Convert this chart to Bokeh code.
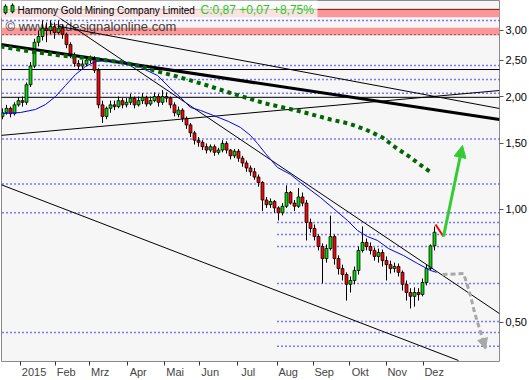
import numpy as np
from bokeh.plotting import figure
from bokeh.models import (Range1d, FixedTicker, CustomJSTickFormatter, LinearAxis,
                          Label, Arrow, NormalHead)
from bokeh.embed import file_html
from bokeh.resources import INLINE
from bokeh.core.properties import value

# ---------------- data ----------------
opens = [1.77,1.81,1.86,1.80,1.90,1.95,1.93,2.15,2.41,2.79,
         2.89,3.04,3.00,3.07,2.96,3.04,2.93,2.75,2.57,2.45,
         2.41,2.44,2.50,2.53,2.35,1.90,1.77,1.86,1.90,1.88,
         1.95,1.90,1.93,1.98,1.90,1.95,1.99,1.91,1.95,2.00,
         1.93,2.00,1.98,1.90,1.79,1.84,1.75,1.68,1.60,1.53,
         1.51,1.47,1.44,1.47,1.42,1.44,1.50,1.44,1.39,1.43,
         1.37,1.33,1.29,1.26,1.22,1.18,1.06,1.03,1.05,1.01,
         0.98,1.02,1.11,1.04,1.02,1.08,1.04,0.924,0.890,0.847,
         0.797,0.740,0.787,0.847,0.740,0.696,0.671,0.632,0.647,0.688,
         0.778,0.817,0.797,0.778,0.750,0.768,0.731,0.713,0.696,0.705,
         0.680,0.632,0.601,0.587,0.601,0.594,0.639,0.696,0.80]
closes = [1.81,1.86,1.80,1.90,1.95,1.93,2.15,2.41,2.79,2.89,
          3.04,3.00,3.07,2.96,3.04,2.93,2.75,2.57,2.45,2.41,
          2.44,2.50,2.53,2.35,1.90,1.77,1.86,1.90,1.88,1.95,
          1.90,1.93,1.98,1.90,1.95,1.99,1.91,1.95,2.00,1.93,
          2.00,1.98,1.90,1.81,1.84,1.75,1.68,1.60,1.53,1.51,
          1.47,1.44,1.47,1.42,1.44,1.50,1.44,1.39,1.43,1.37,
          1.33,1.29,1.26,1.22,1.18,1.06,1.03,1.05,1.01,0.98,
          1.02,1.11,1.04,1.02,1.08,1.04,0.924,0.890,0.847,0.797,
          0.740,0.787,0.847,0.740,0.696,0.671,0.632,0.647,0.688,0.778,
          0.817,0.797,0.778,0.750,0.768,0.731,0.713,0.696,0.705,0.680,
          0.632,0.601,0.587,0.601,0.594,0.639,0.696,0.80,0.87]
highs = [1.86,1.90,1.88,1.93,1.99,2.00,2.18,2.47,2.85,3.00,
         3.19,3.15,3.19,3.15,3.19,3.11,2.96,2.79,2.62,2.50,
         2.50,2.54,2.57,2.56,2.38,1.95,1.88,1.95,1.95,2.00,
         1.98,1.98,2.03,2.00,2.00,2.04,2.01,2.00,2.05,2.03,
         2.08,2.05,2.00,1.93,1.88,1.86,1.77,1.70,1.62,1.56,
         1.53,1.50,1.49,1.49,1.46,1.53,1.52,1.45,1.45,1.45,
         1.39,1.35,1.31,1.29,1.24,1.19,1.08,1.07,1.06,1.02,
         1.04,1.16,1.12,1.06,1.14,1.11,1.06,0.946,0.912,0.858,
         0.812,0.807,0.963,0.858,0.755,0.713,0.680,0.663,0.705,0.797,
         0.901,0.837,0.817,0.792,0.787,0.782,0.750,0.731,0.722,0.718,
         0.688,0.647,0.617,0.620,0.617,0.655,0.713,0.807,0.901]
lows = [1.74,1.79,1.76,1.78,1.88,1.88,1.90,2.12,2.38,2.72,
        2.82,2.79,2.93,2.85,2.93,2.85,2.69,2.53,2.40,2.35,
        2.36,2.41,2.45,2.31,1.86,1.70,1.74,1.81,1.84,1.86,
        1.86,1.87,1.90,1.86,1.88,1.91,1.88,1.89,1.93,1.88,
        1.90,1.93,1.86,1.77,1.76,1.71,1.64,1.56,1.49,1.47,
        1.44,1.41,1.42,1.39,1.40,1.42,1.41,1.36,1.37,1.34,
        1.30,1.26,1.23,1.20,1.15,0.99,1.01,1.01,0.98,0.935,
        0.965,1.01,1.03,0.99,1.01,1.02,0.827,0.868,0.827,0.778,
        0.636,0.722,0.778,0.713,0.671,0.647,0.572,0.601,0.632,0.671,
        0.768,0.778,0.759,0.731,0.722,0.705,0.647,0.675,0.680,0.663,
        0.608,0.572,0.545,0.551,0.572,0.587,0.628,0.688,0.778]

# short moving average (blue)
ma_fast_x = [0,4.5,8.25,10.75,13.25,15.75,18.25,20.75,23.25,27,30.75,34.5,38.75,42,44.5,
             47,49.5,52.75,56.5,59.5,62,63.75,65.75,68.75,72,74.5,79.5,82.75,86.25,88.75,
             91.25,93.75,96.5,100.25,103.75,107,108.5]
ma_fast_y = [1.802,1.813,1.847,1.904,2.000,2.140,2.289,2.404,2.479,2.495,2.465,2.390,2.275,
             2.101,1.988,1.870,1.836,1.780,1.716,1.654,1.575,1.499,1.410,1.294,1.240,1.180,
             1.076,1.006,0.935,0.879,0.847,0.827,0.787,0.754,0.718,0.688,0.680]
# 200-day moving average (green dotted)
ma_slow_x = [-0.5,7,14.5,22,30.25,34.5,38.75,42.75,47,51.25,55.75,60.75,65.75,74.5,82,
             86.5,90.75,95,98.25,102,104,107.5]
ma_slow_y = [2.718,2.636,2.572,2.525,2.464,2.404,2.332,2.275,2.207,2.140,2.063,1.988,1.916,
             1.825,1.737,1.695,1.634,1.555,1.463,1.376,1.326,1.247]

# trend lines (x0, y0, x1, y1)
trend_thick = (-0.5, 2.752, 124.25, 1.737)
trend_thin = [(13.75, 3.081, 124.25, 1.858),
              (-0.5, 1.575, 124.25, 2.075),
              (11.5, 3.390, 124.25, 0.528),
              (-0.5, 1.166, 114.0, 0.396)]

# horizontal levels
dotted_full = [3.19, 2.42, 2.22, 2.04, 1.54, 1.17, 0.98, 0.47]
dotted_aug = [0.923, 0.858, 0.797, 0.635, 0.503, 0.432]
solid_levels = [2.36, 1.99]
red_zones = [(3.25, 3.43), (2.91, 3.05)]
zone_top_line = 3.41
zone_dot_line = 2.925

# projections
proj_red_x = [108.25, 110.25]
proj_red_y = [0.912, 0.847]
proj_up_x = [110.25, 115.0]
proj_up_y = [0.847, 1.481]
proj_down_x = [110.0, 115.25, 116.0, 117.0, 118.0, 119.0, 120.0, 120.75]
proj_down_y = [0.671, 0.675, 0.639, 0.590, 0.532, 0.491, 0.453, 0.426]

month_pos = [4.5, 13.25, 21.75, 31.25, 40.5, 49.25, 58.75, 68.75, 77.75, 86.75, 96, 105.25]
month_lbl = ["2015", "Feb", "Mrz", "Apr", "Mai", "Jun", "Jul", "Aug", "Sep", "Okt", "Nov", "Dez"]
y_ticks = [0.5, 1.0, 1.5, 2.0, 2.5, 3.0]

title = "Harmony Gold Mining Company Limited"
quote = "C:0,87 +0,07 +8,75%"
watermark = "\u00a9 www.tradesignalonline.com"

# ---------------- figure ----------------
FONT = "Liberation Sans"
p = figure(width=529, height=380, output_backend="svg", toolbar_location=None,
           y_axis_type="log", y_axis_location="right",
           x_range=Range1d(-0.25, 124.25), y_range=Range1d(0.3936, 3.604),
           min_border_left=1, min_border_right=29, min_border_top=0, min_border_bottom=19)
p.background_fill_color = "#f6f6f6"
p.border_fill_color = "white"
p.outline_line_color = "#8a8a8a"
p.xgrid.visible = False
p.ygrid.visible = False

# red zones
for lo, hi in red_zones:
    p.quad(left=-1, right=130, bottom=lo, top=hi, fill_color="#f89898", line_color=None)
p.segment(x0=[-1], x1=[130], y0=[zone_top_line], y1=[zone_top_line], line_color="#803030", line_width=1)
p.segment(x0=[-1], x1=[130], y0=[zone_dot_line], y1=[zone_dot_line], line_color="#602020",
          line_width=1.3, line_dash="1 3")

# dotted levels
n_full = len(dotted_full)
p.segment(x0=[-1] * n_full, x1=[130] * n_full, y0=dotted_full, y1=dotted_full,
          line_color="#0000ee", line_width=1.5, line_dash="1 3")
n_aug = len(dotted_aug)
p.segment(x0=[month_pos[7]] * n_aug, x1=[130] * n_aug, y0=dotted_aug, y1=dotted_aug,
          line_color="#0000ee", line_width=1.5, line_dash="1 3")
n_sol = len(solid_levels)
p.segment(x0=[-1] * n_sol, x1=[130] * n_sol, y0=solid_levels, y1=solid_levels,
          line_color="black", line_width=1)

# watermark
p.text(x=[0.75], y=[3.073], text=[watermark], text_font=value(FONT), text_font_size="13px",
       text_color="#404040", text_baseline="middle", text_align="left")

# candles
idx = list(range(len(closes)))
tops = [max(o, c) for o, c in zip(opens, closes)]
bots = [min(o, c) for o, c in zip(opens, closes)]
cols = ["#00dd00" if c >= o else "#ff0000" for o, c in zip(opens, closes)]
p.segment(x0=idx, x1=idx, y0=lows, y1=highs, line_color="black", line_width=1)
p.vbar(x=idx, width=0.72, top=tops, bottom=bots, fill_color=cols, line_color="black", line_width=0.8)

# trend lines
p.line([trend_thick[0], trend_thick[2]], [trend_thick[1], trend_thick[3]], line_color="black", line_width=3)
for (x0, y0, x1, y1) in trend_thin:
    p.line([x0, x1], [y0, y1], line_color="black", line_width=1)

# moving averages
p.line(ma_fast_x, ma_fast_y, line_color="#0000ff", line_width=1)
p.line(ma_slow_x, ma_slow_y, line_color="#006600", line_width=4, line_dash="4 4")

# projections
p.line(proj_red_x, proj_red_y, line_color="#ff0000", line_width=2)
green = "#33cc33"
p.add_layout(Arrow(end=NormalHead(size=12, fill_color=green, line_color=green),
                   x_start=proj_up_x[0], y_start=proj_up_y[0], x_end=proj_up_x[1], y_end=proj_up_y[1],
                   line_color=green, line_width=3))
grey = "#a8a8a8"
p.line(proj_down_x, proj_down_y, line_color=grey, line_width=3, line_dash="5 3")
p.add_layout(Arrow(end=NormalHead(size=10, fill_color=grey, line_color=grey),
                   x_start=proj_down_x[-2], y_start=proj_down_y[-2], x_end=proj_down_x[-1], y_end=proj_down_y[-1],
                   line_color=grey, line_width=0))

# title box with small candle icon
p.quad(left=-1, right=78.75, bottom=3.228, top=3.8, fill_color="white", fill_alpha=0.72, line_color=None)
p.segment(x0=[0.75, 2.5], x1=[0.75, 2.5], y0=[3.31, 3.33], y1=[3.52, 3.54], line_color="black", line_width=1)
p.quad(left=[0.375, 2.125], right=[1.125, 2.875], bottom=[3.34, 3.36], top=[3.48, 3.50],
       fill_color="#00dd00", line_color="black", line_width=0.8)
p.text(x=[3.75], y=[3.39], text=[title], text_font=value(FONT), text_font_size="10px",
       text_color="black", text_baseline="middle", text_align="left")
p.text(x=[49.5], y=[3.39], text=[quote], text_font=value(FONT), text_font_size="12px",
       text_color="#22cc22", text_baseline="middle", text_align="left")

# y axis
ya = p.yaxis[0]
ya.ticker = FixedTicker(ticks=y_ticks)
ya.formatter = CustomJSTickFormatter(code="return tick.toFixed(2).replace('.', ',');")
ya.axis_line_color = None
ya.major_tick_out = 4
ya.major_tick_in = 0
ya.minor_tick_line_color = None
ya.major_tick_line_color = "#555555"
ya.major_label_text_font = FONT
ya.major_label_text_font_size = "11px"
ya.major_label_text_color = "black"
ya.major_label_standoff = 2
p.add_layout(Label(x=126.0, y=3.41, text="$", text_font=FONT, text_font_size="11px",
                   text_baseline="middle", text_align="left", text_font_style="bold"))

# x axis: ticks only
xa = p.xaxis[0]
xa.ticker = FixedTicker(ticks=month_pos)
xa.formatter = CustomJSTickFormatter(code="return '';")
xa.axis_line_color = None
xa.major_tick_out = 4
xa.major_tick_in = 0
xa.minor_tick_line_color = None
xa.major_tick_line_color = "#333333"
xa.major_label_standoff = 0

# x axis: labels placed right of ticks
char_w = 5.8
lbl_pos = [pos + (2 + len(l) * char_w / 2) / 4 for pos, l in zip(month_pos, month_lbl)]
xb = LinearAxis(ticker=FixedTicker(ticks=lbl_pos),
                major_label_overrides={pos: l for pos, l in zip(lbl_pos, month_lbl)})
xb.axis_line_color = None
xb.major_tick_line_color = None
xb.minor_tick_line_color = None
xb.major_tick_out = 0
xb.major_tick_in = 0
xb.major_label_standoff = 0
xb.major_label_text_font = FONT
xb.major_label_text_font_size = "11px"
p.add_layout(xb, "below")

open("out.html", "w").write(file_html(p, INLINE))
